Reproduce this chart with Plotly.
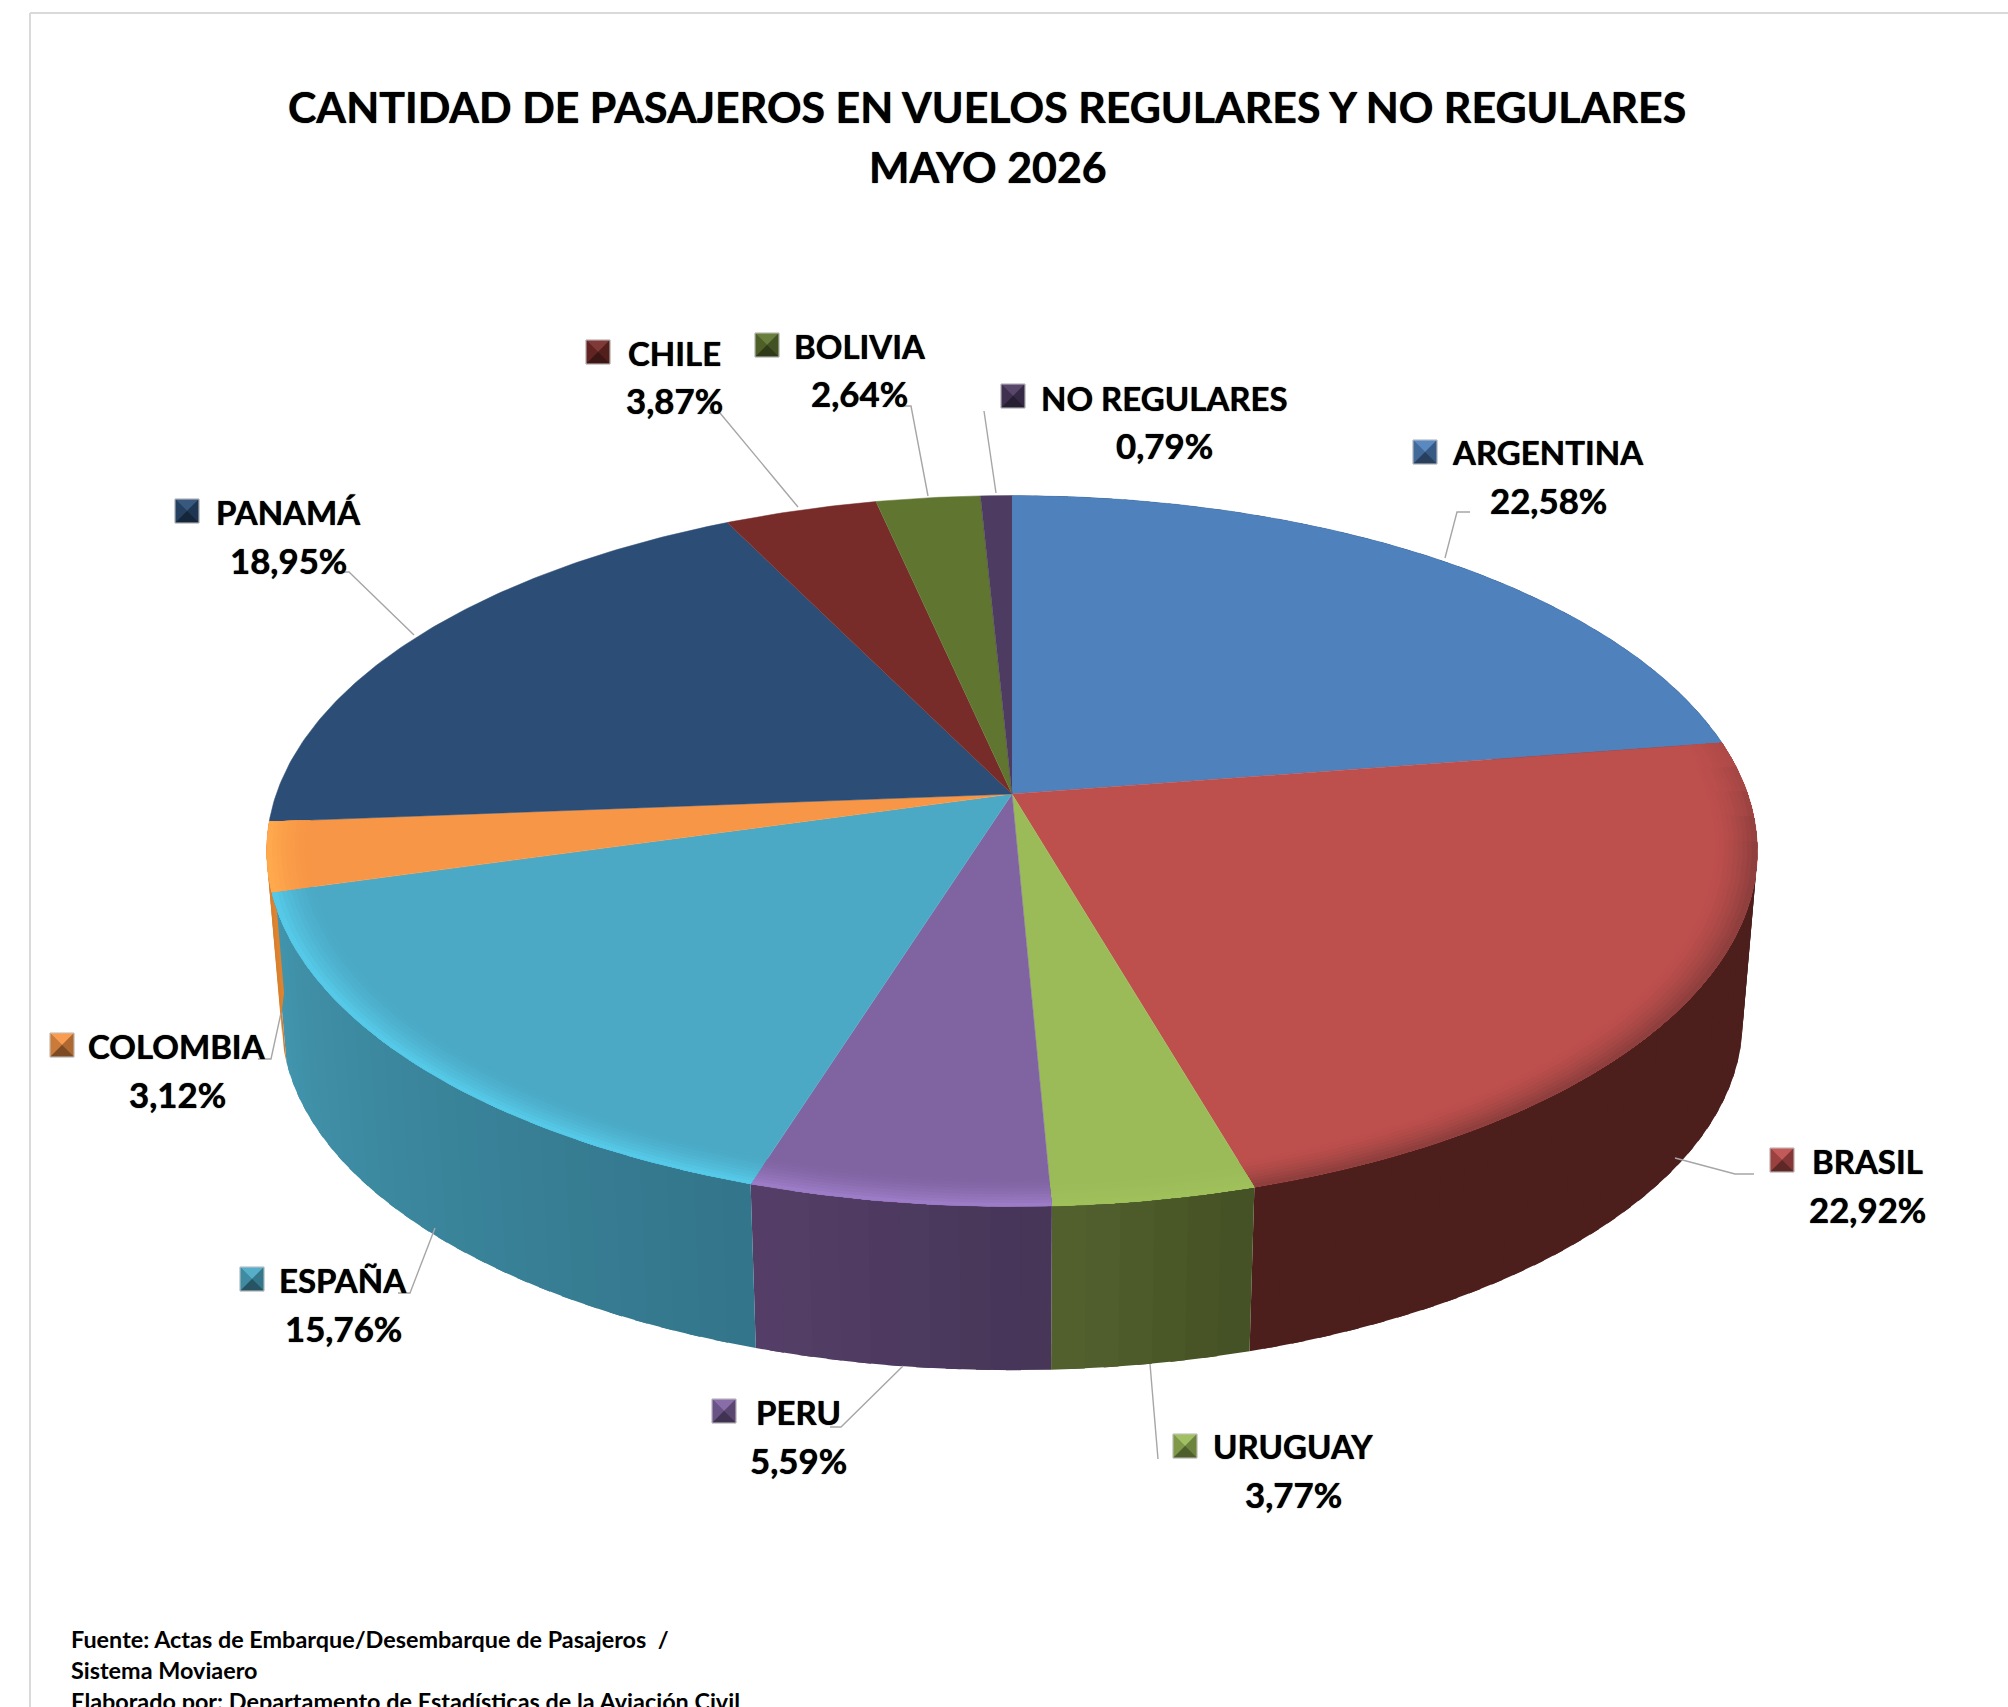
import math
import plotly.graph_objects as go

# ---- data ----
categories = ["ARGENTINA", "BRASIL", "URUGUAY", "PERU", "ESPAÑA", "COLOMBIA", "PANAMÁ", "CHILE", "BOLIVIA", "NO REGULARES"]
shares = [22.58, 22.92, 3.77, 5.59, 15.76, 3.12, 18.95, 3.87, 2.64, 0.79]
share_labels = ["22,58%", "22,92%", "3,77%", "5,59%", "15,76%", "3,12%", "18,95%", "3,87%", "2,64%", "0,79%"]
title_lines = ["CANTIDAD DE PASAJEROS EN VUELOS REGULARES Y NO REGULARES", "MAYO 2026"]
footer_lines = ["Fuente: Actas de Embarque/Desembarque de Pasajeros  /", "Sistema Moviaero",
                "Elaborado por: Departamento de Estadísticas de la Aviación Civil"]

# ---- styles ----
top_colors = ["#4f81bd", "#bd4f4d", "#9bbb59", "#8064a2", "#4ba9c5", "#f79646", "#2c4d75", "#772c2a", "#5f7530", "#4d3b62"]
rim_colors = [None, "#8f3f3d", "#a0c05c", "#9c7cc6", "#55c9e7", "#ffa94d", None, None, None, None]
side_start = ["#2c4a6c", "#4d1f1c", "#445024", "#463557", "#33758a", "#d07a2c", None, None, None, None]
side_end = ["#2c4a6c", "#4d1f1c", "#53622e", "#553f68", "#4296ae", "#e0842f", None, None, None, None]

# ---- page layout (pixels) ----
CX, CY = 1012.0, 794.0
A, B, K = 735.7, 346.3, 0.1604
DEPTH, BOTTOM_SCALE = 172.0, 0.98
FONT = "Lato"
NAME_SIZE = 33
PCT_SIZE = 34.8
TITLE_SIZE = 42.9
FOOT_SIZE = 23.4
TEXT = "#000000"
LEADER = "#a6a6a6"

name_pos = [(1548, 452), (1867, 1161), (1293, 1446), (798, 1412), (343, 1280), (177, 1046), (288, 512), (674, 353), (860, 346), (1164, 398)]
pct_pos = [(1548, 500), (1867, 1209), (1293, 1494), (798, 1460), (343, 1328), (177, 1094), (288, 560), (674, 400), (859, 393), (1164, 445)]
key_pos = [(1425, 452), (1782, 1160), (1185, 1446), (724, 1411), (252, 1279), (62, 1045), (187, 511), (598, 352), (767, 345), (1013, 396)]
KEY_HALF = 12
leaders = [
    [(1470, 512), (1457, 512), (1445, 558)],
    [(1754, 1174), (1735, 1174), (1675, 1158)],
    [(1150, 1364), (1158, 1459)],
    [(903, 1366), (841, 1427), (830, 1427)],
    [(398, 1293), (410, 1293), (435, 1228)],
    [(258, 1059), (271, 1059), (281, 1013)],
    [(337, 572), (349, 572), (414, 635)],
    [(709, 413), (720, 413), (798, 507)],
    [(898, 406), (911, 406), (928, 496)],
    [(984, 411), (996, 493)],
]


def rgb(h):
    return tuple(int(h[i:i + 2], 16) for i in (1, 3, 5))


def mix(c1, c2, t):
    a, b = rgb(c1), rgb(c2)
    return "#%02x%02x%02x" % tuple(round(a[i] + (b[i] - a[i]) * t) for i in range(3))


def project(deg, r=1.0, lower=False):
    a = math.radians(deg)
    X, Y = r * math.sin(a), r * math.cos(a)
    w = 1 + K * Y
    s = BOTTOM_SCALE if lower else 1.0
    return CX + s * A * X / w, CY + (DEPTH if lower else 0) - s * B * Y / w


def arc(a0, a1, r=1.0, lower=False, step=0.6):
    n = max(2, int(abs(a1 - a0) / step) + 1)
    return [project(a0 + (a1 - a0) * i / (n - 1), r, lower) for i in range(n)]


fig = go.Figure()


def poly(pts, color, lw=0.0):
    fig.add_trace(go.Scatter(x=[p[0] for p in pts], y=[p[1] for p in pts], mode="lines",
                             fill="toself", fillcolor=color, line=dict(color=color, width=lw),
                             hoverinfo="skip", showlegend=False))


total = sum(shares)
edges = [0.0]
for v in shares:
    edges.append(edges[-1] + v / total * 360)

# side wall: each strip runs under the next one so no seams show
for i, v in enumerate(shares):
    if side_start[i] is None:
        continue
    a0, a1 = edges[i], edges[i + 1]
    n = max(1, int((a1 - a0) / 2.0))
    for j in range(n):
        b0 = a0 + (a1 - a0) * j / n
        b1 = a0 + (a1 - a0) * (j + 1) / n + (1.0 if j < n - 1 else 0.0)
        pts = arc(b0, b1) + arc(b1, b0, lower=True)
        poly(pts, mix(side_start[i], side_end[i], (j + 0.5) / n))

# top surface
for i, v in enumerate(shares):
    poly([(CX, CY)] + arc(edges[i], edges[i + 1]), top_colors[i], 0.5)

# bevel close to the rim
bands = [(0.945 + 0.006 * m, 1.0, ((m + 1) / 9) ** 1.6) for m in range(9)]
for i, v in enumerate(shares):
    if rim_colors[i] is None:
        continue
    a0, a1 = edges[i], edges[i + 1]
    n = max(1, int((a1 - a0) / 4.0))
    for r0, r1, t in bands:
        for j in range(n):
            b0 = a0 + (a1 - a0) * j / n
            b1 = a0 + (a1 - a0) * (j + 1) / n
            front = max(0.0, min(1.0, (0.25 - math.cos(math.radians((b0 + b1) / 2))) / 0.4))
            e = b1 + (1.0 if j < n - 1 else 0.0)
            poly(arc(b0, e, r1) + arc(e, b0, r0), mix(top_colors[i], rim_colors[i], t * front))

# leader lines
for pts in leaders:
    fig.add_trace(go.Scatter(x=[p[0] for p in pts], y=[p[1] for p in pts], mode="lines",
                             line=dict(color=LEADER, width=1.4), hoverinfo="skip", showlegend=False))

# legend keys (small pyramids)
for i, (kx, ky) in enumerate(key_pos):
    h = KEY_HALF
    c = top_colors[i]
    tl, tr, bl, br, m = (kx - h, ky - h), (kx + h, ky - h), (kx - h, ky + h), (kx + h, ky + h), (kx, ky)
    poly([tl, tr, br, bl], mix(c, "#000000", 0.25))
    poly([tl, tr, m], mix(c, "#ffffff", 0.06), 0.4)
    poly([tl, bl, m], mix(c, "#000000", 0.18), 0.4)
    poly([tr, br, m], mix(c, "#000000", 0.3), 0.4)
    poly([bl, br, m], mix(c, "#000000", 0.5), 0.4)
    fig.add_shape(type="rect", x0=kx - h, x1=kx + h, y0=ky - h, y1=ky + h,
                  line=dict(color="#c4c4c4", width=1), layer="above")


def text(x, y, s, size, anchor="center", heavy="0 0 1px #000000"):
    fig.add_annotation(x=x, y=y, text=s, showarrow=False, xanchor=anchor, yanchor="middle",
                       font=dict(family=FONT, size=size, color=TEXT, weight="bold", shadow=heavy))


text(987, 106, title_lines[0], TITLE_SIZE)
text(988, 166, title_lines[1], TITLE_SIZE)
for i, name in enumerate(categories):
    text(name_pos[i][0], name_pos[i][1], name, NAME_SIZE)
    text(pct_pos[i][0], pct_pos[i][1], share_labels[i], PCT_SIZE)
for line, y in zip(footer_lines, (1639, 1670, 1701)):
    text(69, y, line, FOOT_SIZE, "left", "none")

# page frame
fig.add_shape(type="line", x0=30, x1=30, y0=13, y1=1707, line=dict(color="#d9d9d9", width=2))
fig.add_shape(type="line", x0=30, x1=2008, y0=13, y1=13, line=dict(color="#d9d9d9", width=2))

fig.update_layout(width=2008, height=1707, margin=dict(l=0, r=0, t=0, b=0),
                  paper_bgcolor="#ffffff", plot_bgcolor="#ffffff", showlegend=False, hovermode=False,
                  xaxis=dict(range=[0, 2008], visible=False, fixedrange=True),
                  yaxis=dict(range=[1707, 0], visible=False, fixedrange=True))

fig.write_html("out.html", post_script="document.body.style.margin='0';document.body.style.overflow='hidden';",
               config={"displayModeBar": False})
